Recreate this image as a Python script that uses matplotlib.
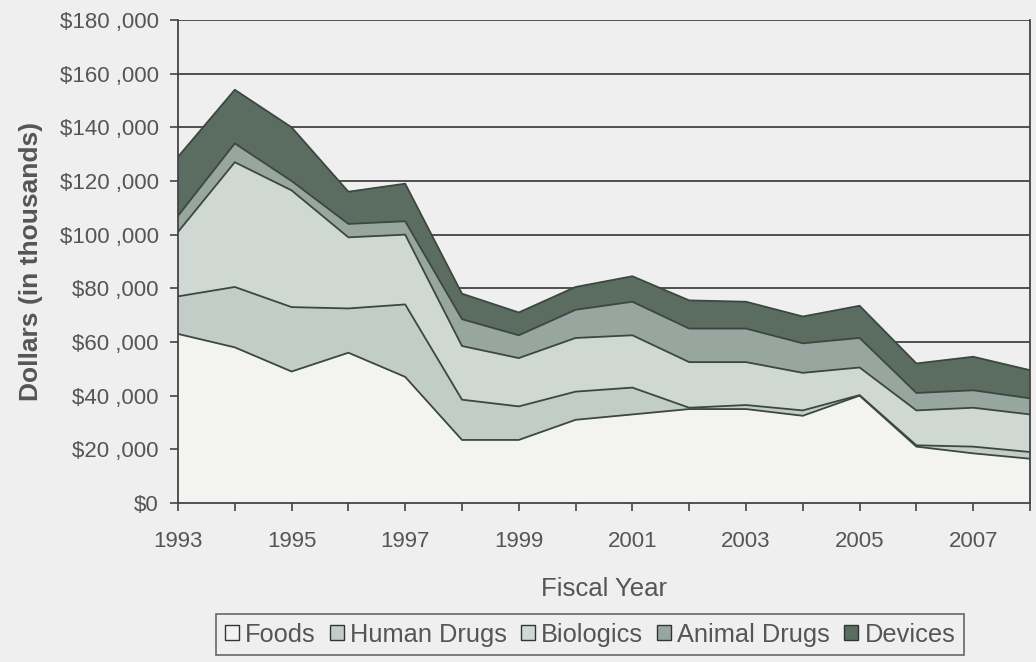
import matplotlib
matplotlib.use("Agg")
import matplotlib.pyplot as plt
from matplotlib.patches import Patch
import numpy as np

years = list(range(1993, 2009))
foods = [63, 58, 49, 56, 47, 23.5, 23.5, 31, 33, 35, 35, 32.5, 40, 21, 18.5, 16.5]
human_drugs = [14, 22.5, 24, 16.5, 27, 15, 12.5, 10.5, 10, 0.5, 1.5, 2, 0.2, 0.5, 2.5, 2.5]
biologics = [24, 46.5, 43.5, 26.5, 26, 20, 18, 20, 19.5, 17, 16, 14, 10.3, 13, 14.5, 14]
animal_drugs = [6, 7, 3.5, 5, 5, 10, 8.5, 10.5, 12.5, 12.5, 12.5, 11, 11, 6.5, 6.5, 6]
devices = [22, 20, 20, 12, 14, 9.5, 8.5, 8.5, 9.5, 10.5, 10, 10, 12, 11, 12.5, 10.5]

series_names = ["Foods", "Human Drugs", "Biologics", "Animal Drugs", "Devices"]
y_ticks = [0, 20, 40, 60, 80, 100, 120, 140, 160, 180]
y_tick_labels = ["$0", "$20 ,000", "$40 ,000", "$60 ,000", "$80 ,000", "$100 ,000",
                 "$120 ,000", "$140 ,000", "$160 ,000", "$180 ,000"]
x_tick_years = [1993, 1995, 1997, 1999, 2001, 2003, 2005, 2007]

colors = ["#f3f3f1", "#c3cdc8", "#d0d8d4", "#97a69e", "#5b6c61"]
edge = "#3b4740"
bg = "#efefef"
text_color = "#555555"

plt.rcParams["font.family"] = ["Liberation Sans", "DejaVu Sans"]

fig = plt.figure(figsize=(10.36, 6.62), dpi=100, facecolor=bg)
ax = fig.add_axes([0.1718, 0.2402, 0.8224, 0.7296])
ax.set_facecolor(bg)

data = np.array([foods, human_drugs, biologics, animal_drugs, devices])
cum = np.cumsum(data, axis=0)
x = np.array(years)

for yv in y_ticks[1:]:
    ax.axhline(yv, color="#444444", lw=1.3, zorder=0)

lower = np.zeros(len(years))
for i in range(len(series_names)):
    ax.fill_between(x, lower, cum[i], facecolor=colors[i], edgecolor="none", zorder=2)
    ax.plot(x, cum[i], color=edge, lw=1.3, zorder=3)
    lower = cum[i]

ax.set_xlim(1993, 2008)
ax.set_ylim(0, 180)
ax.set_yticks(y_ticks)
ax.set_yticklabels(y_tick_labels)
ax.set_xticks(years)
ax.set_xticklabels([str(y) if y in x_tick_years else "" for y in years])
ax.tick_params(axis="both", direction="out", length=6, width=1.2, color="#444444",
               labelcolor=text_color, labelsize=16)
ax.tick_params(axis="x", pad=14)
ax.tick_params(axis="y", pad=8)

ax.spines["top"].set_visible(False)
for side in ["left", "bottom", "right"]:
    ax.spines[side].set_color("#444444")
    ax.spines[side].set_linewidth(1.3)

ax.set_ylabel("Dollars (in thousands)", fontsize=19, fontweight="bold", color=text_color)
ax.yaxis.set_label_coords(-0.158, 0.5)
ax.set_xlabel("Fiscal Year", fontsize=18.5, color=text_color)
ax.xaxis.set_label_coords(0.5, -0.153)

handles = [Patch(facecolor=c, edgecolor="#333333", linewidth=1.0) for c in colors]
leg = fig.legend(handles, series_names, loc="center", bbox_to_anchor=(0.5695, 0.0415), ncol=5,
                 frameon=True, fontsize=18.3, handlelength=0.55, handleheight=0.55,
                 handletextpad=0.25, columnspacing=0.55, borderpad=0.35, fancybox=False)
leg.get_frame().set_edgecolor("#444444")
leg.get_frame().set_linewidth(1.2)
leg.get_frame().set_facecolor(bg)
for t in leg.get_texts():
    t.set_color(text_color)

fig.savefig("out.png", dpi=100, facecolor=bg)
